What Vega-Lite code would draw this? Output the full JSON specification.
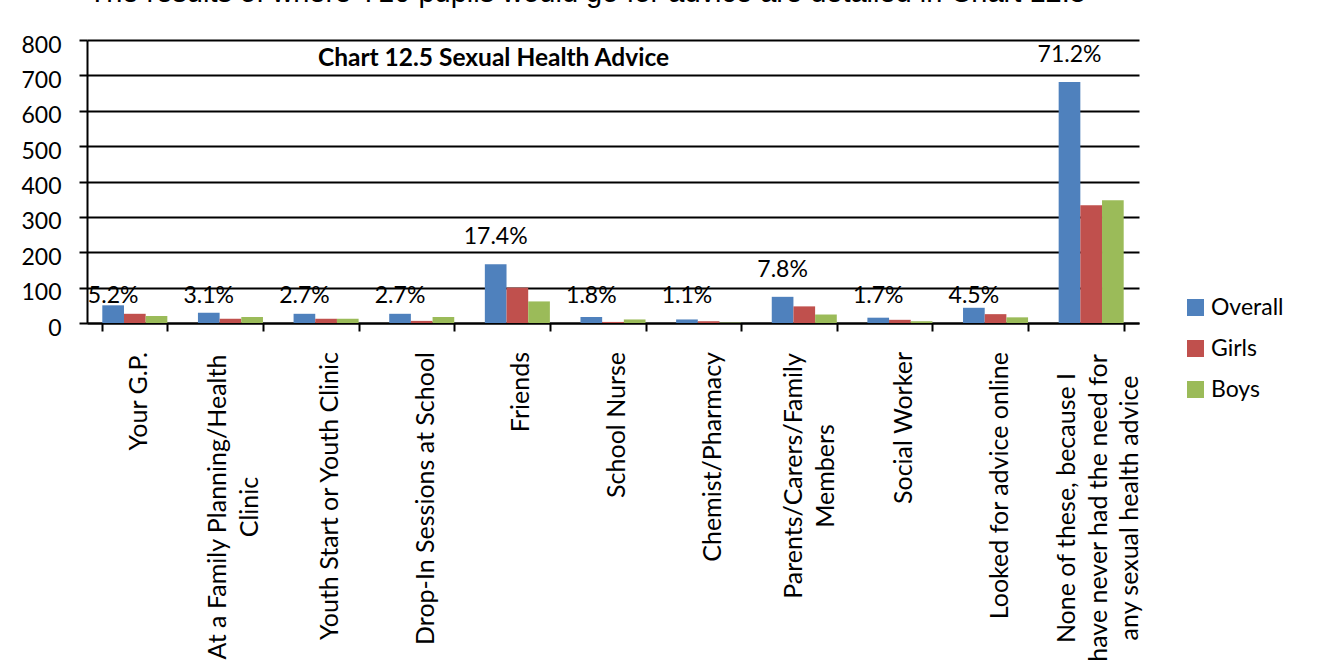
{
  "$schema": "https://vega.github.io/schema/vega-lite/v6.json",
  "width": 1052,
  "height": 283,
  "autosize": {"type": "none"},
  "padding": {"left": 87, "top": 40, "right": 188, "bottom": 343},
  "background": "white",
  "config": {
    "view": {"stroke": null},
    "font": "Lato",
    "text": {"font": "Lato", "fontSize": 23, "color": "black"}
  },
  "data": {
    "values": [
      {"cat": "Your G.P.", "series": "Overall", "value": 50, "pct": "5.2%"},
      {"cat": "Your G.P.", "series": "Girls", "value": 26},
      {"cat": "Your G.P.", "series": "Boys", "value": 20},
      {"cat": "At a Family Planning/Health|Clinic", "series": "Overall", "value": 29, "pct": "3.1%"},
      {"cat": "At a Family Planning/Health|Clinic", "series": "Girls", "value": 12},
      {"cat": "At a Family Planning/Health|Clinic", "series": "Boys", "value": 17},
      {"cat": "Youth Start or Youth Clinic", "series": "Overall", "value": 26, "pct": "2.7%"},
      {"cat": "Youth Start or Youth Clinic", "series": "Girls", "value": 12},
      {"cat": "Youth Start or Youth Clinic", "series": "Boys", "value": 12},
      {"cat": "Drop-In Sessions at School", "series": "Overall", "value": 26, "pct": "2.7%"},
      {"cat": "Drop-In Sessions at School", "series": "Girls", "value": 6},
      {"cat": "Drop-In Sessions at School", "series": "Boys", "value": 17},
      {"cat": "Friends", "series": "Overall", "value": 166, "pct": "17.4%"},
      {"cat": "Friends", "series": "Girls", "value": 100},
      {"cat": "Friends", "series": "Boys", "value": 61},
      {"cat": "School Nurse", "series": "Overall", "value": 17, "pct": "1.8%"},
      {"cat": "School Nurse", "series": "Girls", "value": 3},
      {"cat": "School Nurse", "series": "Boys", "value": 10},
      {"cat": "Chemist/Pharmacy", "series": "Overall", "value": 10, "pct": "1.1%"},
      {"cat": "Chemist/Pharmacy", "series": "Girls", "value": 5},
      {"cat": "Chemist/Pharmacy", "series": "Boys", "value": 1},
      {"cat": "Parents/Carers/Family|Members", "series": "Overall", "value": 74, "pct": "7.8%"},
      {"cat": "Parents/Carers/Family|Members", "series": "Girls", "value": 47},
      {"cat": "Parents/Carers/Family|Members", "series": "Boys", "value": 24},
      {"cat": "Social Worker", "series": "Overall", "value": 15, "pct": "1.7%"},
      {"cat": "Social Worker", "series": "Girls", "value": 9},
      {"cat": "Social Worker", "series": "Boys", "value": 5},
      {"cat": "Looked for advice online", "series": "Overall", "value": 43, "pct": "4.5%"},
      {"cat": "Looked for advice online", "series": "Girls", "value": 25},
      {"cat": "Looked for advice online", "series": "Boys", "value": 16},
      {"cat": "None of these, because I|have never had the need for|any sexual health advice", "series": "Overall", "value": 681, "pct": "71.2%"},
      {"cat": "None of these, because I|have never had the need for|any sexual health advice", "series": "Girls", "value": 333},
      {"cat": "None of these, because I|have never had the need for|any sexual health advice", "series": "Boys", "value": 347}
    ]
  },
  "encoding": {
    "x": {
      "field": "cat",
      "type": "nominal",
      "sort": null,
      "scale": {"paddingInner": 0.32, "paddingOuter": 0.16},
      "axis": {
        "title": "The results of where Y10 pupils would go for advice are detailed in Chart 12.5",
        "titleAngle": 0,
        "titleX": 1,
        "titleY": -322,
        "titleAlign": "left",
        "titleBaseline": "alphabetic",
        "titleFont": "Liberation Sans",
        "titleFontSize": 29,
        "titleFontWeight": "normal",
        "titleColor": "black",
        "labels": false,
        "domainColor": "black",
        "domainWidth": 2,
        "tickColor": "black",
        "tickWidth": 2,
        "tickSize": 8,
        "tickBand": "extent",
        "grid": false
      }
    },
    "y": {
      "field": "value",
      "type": "quantitative",
      "scale": {"domain": [0, 800], "nice": false},
      "axis": {
        "title": "Chart 12.5 Sexual Health Advice",
        "titleAngle": 0,
        "titleX": 406,
        "titleY": 25,
        "titleAlign": "center",
        "titleBaseline": "alphabetic",
        "titleFont": "Lato",
        "titleFontSize": 24.5,
        "titleFontWeight": "bold",
        "titleColor": "black",
        "values": [0, 100, 200, 300, 400, 500, 600, 700, 800],
        "grid": true,
        "gridColor": "black",
        "gridWidth": 2,
        "domainColor": "black",
        "domainWidth": 2,
        "tickColor": "black",
        "tickWidth": 2,
        "tickSize": 8,
        "labelFont": "Lato",
        "labelFontSize": 23,
        "labelColor": "black",
        "labelPadding": 18,
        "labelOffset": 5
      }
    }
  },
  "layer": [
    {
      "mark": {"type": "bar"},
      "encoding": {
        "xOffset": {"field": "series", "type": "nominal", "scale": {"domain": ["Overall", "Girls", "Boys"], "paddingInner": 0, "paddingOuter": 0}},
        "color": {
          "field": "series",
          "type": "nominal",
          "scale": {"domain": ["Overall", "Girls", "Boys"], "range": ["#4F81BD", "#C0504D", "#9BBB59"]},
          "legend": {
            "orient": "none",
            "legendX": 1097,
            "legendY": 256,
            "title": null,
            "symbolType": "square",
            "symbolSize": 289,
            "symbolStrokeWidth": 0,
            "labelFont": "Lato",
            "labelFontSize": 23,
            "labelColor": "black",
            "labelOffset": 4,
            "rowPadding": 17,
            "padding": 0
          }
        }
      }
    },
    {
      "transform": [{"filter": "datum.series == 'Overall' && datum.value > 60"}],
      "mark": {"type": "text", "baseline": "alphabetic", "dy": -20, "fontSize": 23, "font": "Lato"},
      "encoding": {
        "xOffset": {"field": "series", "type": "nominal", "scale": {"domain": ["Overall", "Girls", "Boys"], "paddingInner": 0, "paddingOuter": 0}},
        "text": {"field": "pct"}
      }
    },
    {
      "transform": [{"filter": "datum.series == 'Overall' && datum.value <= 60"}],
      "mark": {"type": "text", "baseline": "alphabetic", "dy": -20, "fontSize": 23, "font": "Lato"},
      "encoding": {
        "xOffset": {"field": "series", "type": "nominal", "scale": {"domain": ["Overall", "Girls", "Boys"], "paddingInner": 0, "paddingOuter": 0}},
        "y": {"datum": 0},
        "text": {"field": "pct"}
      }
    },
    {
      "transform": [{"filter": "datum.series == 'Overall' && indexof(datum.cat, '|') < 0"}],
      "mark": {"type": "text", "angle": 270, "align": "right", "baseline": "middle", "dx": -29, "dy": 4, "fontSize": 25, "font": "Lato"},
      "encoding": {
        "y": {"datum": 0},
        "text": {"field": "cat"}
      }
    },
    {
      "transform": [
        {"filter": "datum.series == 'Overall' && indexof(datum.cat, 'At a Family') == 0"},
        {"calculate": "split(datum.cat, '|')", "as": "lines"}
      ],
      "mark": {"type": "text", "angle": 270, "align": "center", "baseline": "middle", "dx": -184, "dy": -12, "lineHeight": 31.5, "fontSize": 25, "font": "Lato"},
      "encoding": {
        "y": {"datum": 0},
        "text": {"field": "lines"}
      }
    },
    {
      "transform": [
        {"filter": "datum.series == 'Overall' && indexof(datum.cat, 'Parents') == 0"},
        {"calculate": "split(datum.cat, '|')", "as": "lines"}
      ],
      "mark": {"type": "text", "angle": 270, "align": "center", "baseline": "middle", "dx": -153, "dy": -10, "lineHeight": 31.5, "fontSize": 25, "font": "Lato"},
      "encoding": {
        "y": {"datum": 0},
        "text": {"field": "lines"}
      }
    },
    {
      "transform": [
        {"filter": "datum.series == 'Overall' && indexof(datum.cat, 'None of') == 0"},
        {"calculate": "split(datum.cat, '|')", "as": "lines"}
      ],
      "mark": {"type": "text", "angle": 270, "align": "center", "baseline": "middle", "dx": -185, "dy": -24, "lineHeight": 31.5, "fontSize": 25, "font": "Lato"},
      "encoding": {
        "y": {"datum": 0},
        "text": {"field": "lines"}
      }
    }
  ]
}
